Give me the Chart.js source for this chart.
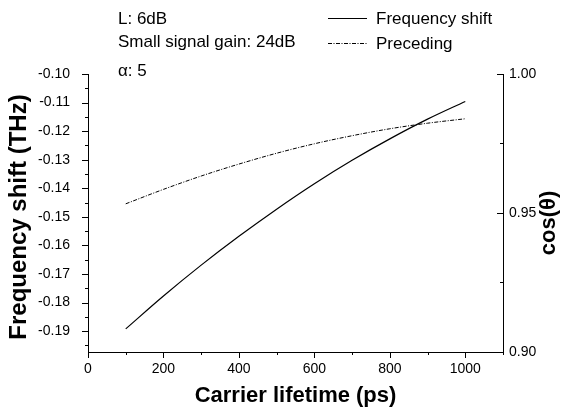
<!DOCTYPE html>
<html>
<head>
<meta charset="utf-8">
<script src="https://cdn.jsdelivr.net/npm/chart.js@4"></script>
<style>
  html, body { margin: 0; padding: 0; background: #fff; }
  #wrap { width: 567px; height: 410px; }
</style>
</head>
<body>
<div id="wrap"><canvas id="myChart" width="567" height="410"></canvas></div>
<script>
// carrier lifetime (ps)
const lifetime = [100, 200, 300, 400, 500, 600, 700, 800, 900, 1000];
// frequency shift (THz), left axis
const freqShift = [-0.1892, -0.1777, -0.1669, -0.1568, -0.1473, -0.1384, -0.1302, -0.1227, -0.1158, -0.1096];
// preceding cos(theta), right axis
const preceding = [0.9533, 0.9585, 0.9633, 0.9676, 0.9715, 0.9749, 0.9778, 0.9803, 0.9823, 0.9839];

const xTicks = [0, 200, 400, 600, 800, 1000];
const leftTicks = [-0.19, -0.18, -0.17, -0.16, -0.15, -0.14, -0.13, -0.12, -0.11, -0.10];
const rightTicks = [0.90, 0.95, 1.00];
const notes = ['L: 6dB', 'Small signal gain: 24dB', 'α: 5'];

const FONT = "'Liberation Sans', Arial, sans-serif";
Chart.defaults.font.family = FONT;
Chart.defaults.color = '#000';

function setTicks(list) {
  return scale => { scale.ticks = list.map(v => ({ value: v })); };
}

// small tick marks along the axes, plus notes, legend and axis titles
const decor = {
  id: 'decor',
  afterDraw(chart) {
    const ctx = chart.ctx;
    const { left, right, top, bottom } = chart.chartArea;
    const xs = chart.scales.x, yl = chart.scales.y, yr = chart.scales.y2;
    ctx.save();
    ctx.strokeStyle = '#000';
    ctx.lineWidth = 1;
    ctx.beginPath();
    for (let i = 0; i <= 11; i++) {
      const px = Math.round(xs.getPixelForValue(i * 100)) + 0.5;
      const len = i % 2 === 0 ? 6 : 3;
      ctx.moveTo(px, bottom);
      ctx.lineTo(px, bottom + len);
    }
    for (let i = 0; i <= 20; i++) {
      const v = -0.10 - i * 0.005;
      if (v < yl.min - 1e-9) break;
      const py = Math.round(yl.getPixelForValue(v)) + 0.5;
      const len = i % 2 === 0 ? 6 : 3;
      ctx.moveTo(left, py);
      ctx.lineTo(left - len, py);
    }
    for (let i = 0; i <= 4; i++) {
      const py = Math.round(yr.getPixelForValue(0.90 + i * 0.025)) + 0.5;
      const len = i % 2 === 0 ? 6 : 3;
      ctx.moveTo(right, py);
      ctx.lineTo(right - len, py);
    }
    ctx.stroke();

    // notes
    ctx.fillStyle = '#000';
    ctx.font = '17px ' + FONT;
    ctx.textAlign = 'left';
    ctx.textBaseline = 'middle';
    const noteY = [19, 42, 71];
    notes.forEach((t, i) => ctx.fillText(t, 118, noteY[i]));

    // legend
    const items = chart.data.datasets;
    const legY = [18.5, 43.5];
    items.forEach((ds, i) => {
      ctx.beginPath();
      ctx.setLineDash(ds.borderDash || []);
      ctx.lineWidth = 1;
      ctx.moveTo(328, legY[i]);
      ctx.lineTo(367, legY[i]);
      ctx.stroke();
      ctx.setLineDash([]);
      ctx.fillText(ds.label, 376, legY[i] + 0.5);
    });

    // axis titles
    ctx.font = 'bold 22px ' + FONT;
    ctx.textAlign = 'center';
    ctx.fillText('Carrier lifetime (ps)', (left + right) / 2, 396);
    ctx.save();
    ctx.translate(549, 223);
    ctx.rotate(-Math.PI / 2);
    ctx.fillText('cos(θ)', 0, 0);
    ctx.restore();
    ctx.font = 'bold 24px ' + FONT;
    ctx.save();
    ctx.translate(19, 217);
    ctx.rotate(-Math.PI / 2);
    ctx.fillText('Frequency shift (THz)', 0, 0);
    ctx.restore();
    ctx.restore();
  }
};

new Chart('myChart', {
  type: 'line',
  data: {
    datasets: [
      {
        label: 'Frequency shift',
        data: lifetime.map((x, i) => ({ x: x, y: freqShift[i] })),
        yAxisID: 'y',
        borderColor: '#000',
        borderWidth: 1.2,
        pointRadius: 0,
        cubicInterpolationMode: 'monotone',
        fill: false
      },
      {
        label: 'Preceding',
        data: lifetime.map((x, i) => ({ x: x, y: preceding[i] })),
        yAxisID: 'y2',
        borderColor: '#000',
        borderWidth: 1,
        borderDash: [4, 1.5, 1, 1.5],
        pointRadius: 0,
        cubicInterpolationMode: 'monotone',
        fill: false
      }
    ]
  },
  options: {
    responsive: false,
    animation: false,
    devicePixelRatio: 1,
    layout: { padding: { top: 74, left: 0, right: 0, bottom: 0 } },
    plugins: { legend: { display: false }, tooltip: { enabled: false } },
    scales: {
      x: {
        type: 'linear',
        min: 0,
        max: 1100,
        afterBuildTicks: setTicks(xTicks),
        afterFit: s => { s.height = 58; },
        grid: { display: false, drawTicks: false },
        border: { display: true, color: '#000', width: 1 },
        ticks: { font: { size: 14 }, padding: 9, maxRotation: 0, callback: v => String(v) }
      },
      y: {
        type: 'linear',
        position: 'left',
        min: -0.1973,
        max: -0.10,
        afterBuildTicks: setTicks(leftTicks),
        afterFit: s => { s.width = 88; },
        grid: { display: false, drawTicks: false },
        border: { display: true, color: '#000', width: 1 },
        ticks: { font: { size: 14 }, padding: 18, callback: v => v.toFixed(2) }
      },
      y2: {
        type: 'linear',
        position: 'right',
        min: 0.90,
        max: 1.00,
        afterBuildTicks: setTicks(rightTicks),
        afterFit: s => { s.width = 64; },
        grid: { display: false, drawTicks: false },
        border: { display: true, color: '#000', width: 1 },
        ticks: { font: { size: 14 }, padding: 6, callback: v => v.toFixed(2) }
      }
    }
  },
  plugins: [decor]
});
</script>
</body>
</html>
